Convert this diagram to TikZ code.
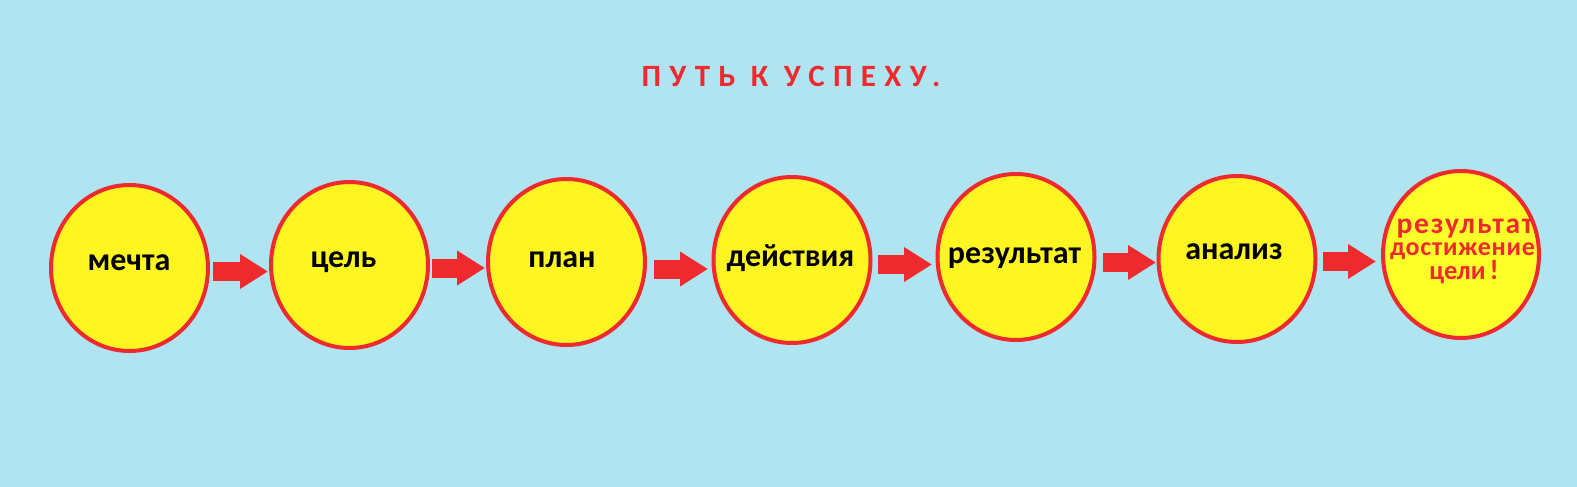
\documentclass[tikz,border=0pt]{standalone}
\usepackage{fontspec}
\setmainfont{Carlito}
\newfontfamily\titlefont[LetterSpace=27]{Carlito}
\newfontfamily\wideredfont[LetterSpace=6]{Carlito}
\newfontfamily\midredfont[LetterSpace=3]{Carlito}
\usetikzlibrary{shapes.geometric,arrows.meta}
\definecolor{bg}{RGB}{176,228,240}
\definecolor{yel}{RGB}{255,245,34}
\definecolor{yellight}{RGB}{255,255,42}
\definecolor{rd}{RGB}{238,42,47}
\begin{document}
\begin{tikzpicture}[x=1pt,y=-1pt,
  bubble/.style={ellipse,draw=rd,line width=4pt,fill=yel,minimum width=157pt,minimum height=166pt,inner sep=0pt},
  lbl/.style={anchor=base,font=\fontsize{32}{32}\selectfont\bfseries,text=black,inner sep=0pt},
  redlbl/.style={anchor=base,text=rd,inner sep=0pt},
  blockarrow/.style={rd,line width=19pt,-{Triangle[length=28pt,width=33pt]}}]
\fill[bg] (0,0) rectangle (1577,487);
\useasboundingbox (0,0) rectangle (1577,487);
% title
\node[anchor=base,text=rd,inner sep=0pt,font=\titlefont\fontsize{31}{31}\selectfont\bfseries] (title) at (791,87) {ПУТЬ К УСПЕХУ.};
% bubbles
\node[bubble] (c1) at (129.5,268) {};
\node[bubble] (c2) at (349.5,265) {};
\node[bubble] (c3) at (566.5,262) {};
\node[bubble] (c4) at (792,260) {};
\node[bubble] (c5) at (1016,257) {};
\node[bubble] (c6) at (1237,259) {};
\node[bubble,fill=yellight,minimum width=156pt,minimum height=167pt] (c7) at (1461,254.5) {};
% labels
\node[lbl] (t1) at (129,270) {мечта};
\node[lbl] (t2) at (343.5,267) {цель};
\node[lbl] (t3) at (562,267) {план};
\node[lbl] (t4) at (790.5,266) {действия};
\node[lbl] (t5) at (1014.5,263) {результат};
\node[lbl] (t6) at (1234,259) {анализ};
\node[redlbl,font=\wideredfont\fontsize{29.5}{29}\selectfont\bfseries] (t7a) at (1465,233) {результат};
\node[redlbl,font=\midredfont\fontsize{26}{26}\selectfont\bfseries] (t7b) at (1462.5,255) {достижение};
\node[redlbl,font=\fontsize{26.5}{26}\selectfont\bfseries] (t7c) at (1464,279) {цели\kern4pt{\fontsize{28}{28}\selectfont!}};
% arrows
\coordinate (a1s) at (213,271.5); \coordinate (a1e) at (268,271.5);
\coordinate (a2s) at (432,268);   \coordinate (a2e) at (485,268);
\coordinate (a3s) at (654,269);   \coordinate (a3e) at (708,269);
\coordinate (a4s) at (878,264.5); \coordinate (a4e) at (932,264.5);
\coordinate (a5s) at (1103,262.5);\coordinate (a5e) at (1156,262.5);
\coordinate (a6s) at (1323,261.5);\coordinate (a6e) at (1376,261.5);
\draw[blockarrow] (a1s) -- (a1e);
\draw[blockarrow] (a2s) -- (a2e);
\draw[blockarrow] (a3s) -- (a3e);
\draw[blockarrow] (a4s) -- (a4e);
\draw[blockarrow] (a5s) -- (a5e);
\draw[blockarrow] (a6s) -- (a6e);
\end{tikzpicture}
\end{document}
